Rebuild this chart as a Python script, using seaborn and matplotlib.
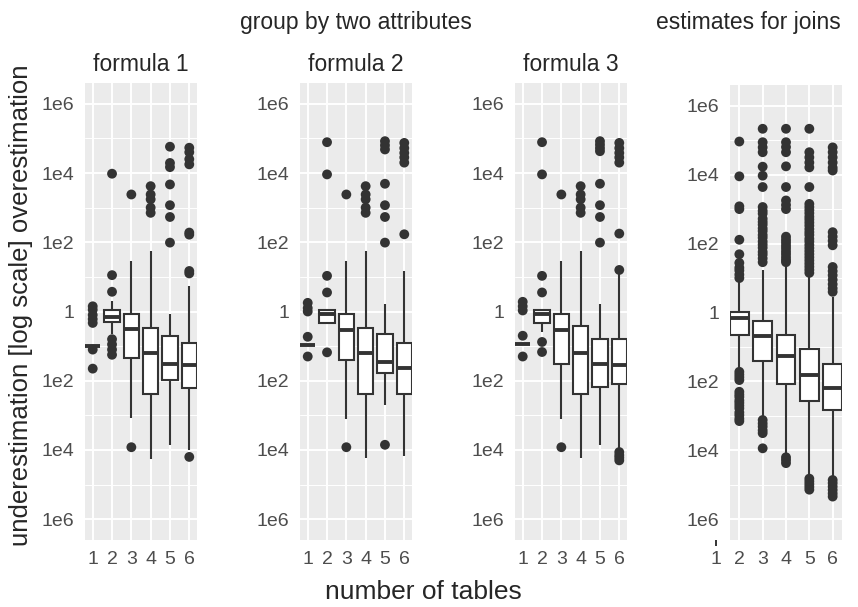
import numpy as np
import pandas as pd
import matplotlib
matplotlib.use("Agg")
import matplotlib.pyplot as plt
import seaborn as sns
from matplotlib.ticker import FixedLocator

sns.set_theme(style="darkgrid")
plt.rcParams['font.family'] = ['Liberation Sans', 'DejaVu Sans']

# ---------------- data (log10 of estimation ratio) ----------------
tables = [1, 2, 3, 4, 5, 6]
join_tables = [2, 3, 4, 5, 6]
ytick_pos = [6, 4, 2, 0, -2, -4, -6]
ytick_labels = ["1e6", "1e4", "1e2", "1", "1e2", "1e4", "1e6"]
xtick_labels = ["1", "2", "3", "4", "5", "6"]

# formula 1
f1_wlo = [-1.00, -0.65, -3.09, -4.25, -3.85, -4.00]
f1_q1 = [-1.00, -0.30, -1.33, -2.38, -1.98, -2.20]
f1_med = [-1.00, -0.15, -0.51, -1.20, -1.52, -1.55]
f1_q3 = [-1.00, 0.03, -0.07, -0.48, -0.72, -0.91]
f1_whi = [-1.00, 0.31, 1.46, 1.75, -0.07, 0.74]
f1_out = [
    [0.15, 0.05, -0.10, -0.22, -0.33, -1.10, -1.65],
    [3.98, 1.05, 0.57, -0.80, -0.95, -1.10, -1.25],
    [3.38, -3.92],
    [3.62, 3.38, 3.24, 3.00, 2.85],
    [4.76, 4.29, 4.17, 3.67, 3.07, 2.73, 1.99],
    [4.73, 4.60, 4.40, 4.25, 2.28, 2.22, 1.17, 1.10, -4.20],
]

# formula 2
f2_wlo = [-0.97, -0.33, -3.10, -4.24, -2.69, -4.18]
f2_q1 = [-0.97, -0.33, -1.39, -2.38, -1.79, -2.38]
f2_med = [-0.97, -0.07, -0.53, -1.20, -1.47, -1.63]
f2_q3 = [-0.97, 0.04, -0.07, -0.48, -0.64, -0.91]
f2_whi = [-0.97, 0.04, 1.46, 1.75, 0.21, 1.18]
f2_out = [
    [0.25, 0.10, 0.00, -0.73, -1.30],
    [4.89, 3.96, 1.03, 0.55, -1.18],
    [3.38, -3.92],
    [3.62, 3.38, 3.24, 3.00, 2.85],
    [4.92, 4.80, 4.68, 3.69, 3.07, 2.73, 1.99, -3.85],
    [4.87, 4.72, 4.58, 4.45, 4.30, 2.23],
]

# formula 3
f3_wlo = [-0.94, -0.60, -3.10, -4.24, -3.85, -4.00]
f3_q1 = [-0.94, -0.33, -1.53, -2.38, -2.17, -2.09]
f3_med = [-0.94, -0.07, -0.53, -1.21, -1.52, -1.55]
f3_q3 = [-0.94, 0.04, -0.07, -0.43, -0.80, -0.80]
f3_whi = [-0.94, 0.04, 1.46, 1.75, 0.21, 1.10]
f3_out = [
    [0.28, 0.15, 0.03, -0.70, -1.30],
    [4.89, 3.96, 1.03, 0.55, -0.88, -1.17],
    [3.38, -3.92],
    [3.62, 3.38, 3.24, 3.00, 2.85],
    [4.92, 4.82, 4.72, 4.63, 3.69, 3.07, 2.73, 1.99],
    [4.87, 4.72, 4.58, 4.45, 4.30, 2.25, 1.20, -4.06, -4.15, -4.22, -4.30],
]

# estimates for joins
j_wlo = [-1.62, -3.04, -4.13, -4.76, -4.80]
j_q1 = [-0.65, -1.40, -2.06, -2.56, -2.83]
j_med = [-0.15, -0.69, -1.27, -1.80, -2.18]
j_q3 = [0.02, -0.25, -0.66, -1.07, -1.48]
j_whi = [0.89, 1.22, 1.37, 1.08, 0.45]
j_out = [
    [4.96, 3.95, 3.08, 3.00, 2.11, 1.69, 1.44, 1.30, 1.22, 1.10, 1.00,
     -1.72, -1.80, -1.88, -1.96, -2.30, -2.38, -2.45, -2.55, -2.62, -2.70,
     -2.78, -2.90, -2.98, -3.08, -3.15],
    [5.33, 4.94, 4.79, 4.65, 4.23, 3.97, 3.64, 3.06, 2.95, 2.87, 2.72, 2.63,
     2.55, 2.44, 2.36, 2.25, 2.17, 2.06, 1.97, 1.88, 1.76, 1.68, 1.57, 1.46,
     -3.12, -3.22, -3.31, -3.42, -3.50, -3.94],
    [5.33, 4.94, 4.80, 4.65, 4.24, 3.64, 3.25, 3.12, 3.00, 2.20, 2.11, 2.03,
     1.94, 1.86, 1.77, 1.69, 1.60, 1.52, 1.46, -4.20, -4.28, -4.37],
    [5.33, 4.65, 4.50, 4.35, 4.21, 3.64, 3.15, 3.06, 2.97, 2.88, 2.78, 2.70,
     2.61, 2.52, 2.42, 2.33, 2.25, 2.14, 2.06, 1.96, 1.87, 1.78, 1.69, 1.60,
     1.51, 1.42, 1.33, 1.24, 1.15, -4.82, -4.90, -4.98, -5.06, -5.14],
    [4.79, 4.65, 4.50, 4.35, 4.20, 4.12, 2.33, 2.20, 2.08, 1.95, 1.32, 1.20,
     1.08, 0.95, 0.82, 0.70, 0.60, -4.86, -4.95, -5.05, -5.15, -5.25, -5.34],
]


def box_frame(groups, wlo, q1, med, q3, whi):
    rows = []
    for g, a, b, c, d, e in zip(groups, wlo, q1, med, q3, whi):
        for v in (a, b, c, d, e):
            rows.append((g, v))
    return pd.DataFrame(rows, columns=["tables", "v"])


def out_frame(groups, outs):
    rows = [(g, v) for g, o in zip(groups, outs) for v in o]
    return pd.DataFrame(rows, columns=["tables", "v"])


panels = [
    (tables, f1_wlo, f1_q1, f1_med, f1_q3, f1_whi, f1_out),
    (tables, f2_wlo, f2_q1, f2_med, f2_q3, f2_whi, f2_out),
    (tables, f3_wlo, f3_q1, f3_med, f3_q3, f3_whi, f3_out),
    (join_tables, j_wlo, j_q1, j_med, j_q3, j_whi, j_out),
]

W, H = 858, 607
fig = plt.figure(figsize=(W / 100, H / 100), dpi=100)
fig.patch.set_facecolor("white")

# pixel boxes: left, top, right, bottom
rects = [(85, 83, 197, 540), (300, 83, 412, 540), (515, 83, 627, 540), (730, 85, 842, 540)]
xlims = [(0.6, 6.4), (0.6, 6.4), (0.6, 6.4), (1.6, 6.4)]

dark = "#333333"
tickc = "#4D4D4D"
axes = []
for (groups, wlo, q1, med, q3, whi, outs), (l, t, r, b), xl in zip(panels, rects, xlims):
    ax = fig.add_axes([l / W, 1 - b / H, (r - l) / W, (b - t) / H])
    axes.append(ax)
    ax.set_facecolor("#EBEBEB")
    bdf = box_frame(groups, wlo, q1, med, q3, whi)
    odf = out_frame(groups, outs)
    sns.boxplot(data=bdf, x="tables", y="v", native_scale=True, whis=(0, 100),
                width=0.8, color="white", saturation=1, linecolor=dark,
                linewidth=1.5, showfliers=False, showcaps=False,
                medianprops=dict(linewidth=2.8, color=dark), ax=ax, zorder=2)
    sns.scatterplot(data=odf, x="tables", y="v", color=dark, s=50,
                    edgecolor="none", ax=ax, legend=False, zorder=3)
    ax.set_xlim(*xl)
    ax.set_ylim(-6.6, 6.6)
    ax.set_xticks(groups)
    ax.set_xticklabels([xtick_labels[g - 1] for g in groups])
    ax.set_yticks(ytick_pos)
    ax.set_yticklabels(ytick_labels)
    ax.yaxis.set_minor_locator(FixedLocator([-5, -3, -1, 1, 3, 5]))
    ax.grid(which="major", color="white", linewidth=1.4)
    ax.grid(which="minor", axis="y", color="white", linewidth=0.7)
    ax.set_axisbelow(True)
    ax.tick_params(which="major", length=4.3, width=1.4, color=dark,
                   labelsize=14, labelcolor=tickc, pad=3.5)
    ax.tick_params(which="minor", length=0)
    for s in ax.spines.values():
        s.set_visible(False)
    ax.set_xlabel("")
    ax.set_ylabel("")

# extra tick "1" for the joins panel (lies left of its plotting area)
ax4 = axes[3]
trans = ax4.get_xaxis_transform()
ax4.plot([1, 1], [0, -6 / 455], transform=trans, clip_on=False, color=dark,
         lw=1.4, solid_capstyle="butt")
ax4.annotate("1", xy=(1, 0), xycoords=trans, xytext=(0, -7.8),
             textcoords="offset points", ha="center", va="top",
             fontsize=14, color=tickc, annotation_clip=False)


def ftext(xp, yp, s, **kw):
    fig.text(xp / W, 1 - yp / H, s, **kw)


ftext(356, 29, "group by two attributes", ha="center", va="baseline", fontsize=16.5)
ftext(748, 29, "estimates for joins", ha="center", va="baseline", fontsize=16.5)
for cx, lab in zip([141, 356, 571], ["formula 1", "formula 2", "formula 3"]):
    ftext(cx, 71, lab, ha="center", va="baseline", fontsize=16.5)
ftext(423, 599, "number of tables", ha="center", va="baseline", fontsize=19)
ftext(21, 305, "underestimation [log scale] overestimation", ha="center",
      va="center", rotation=90, fontsize=18.5)

fig.savefig("out.png", dpi=100)
